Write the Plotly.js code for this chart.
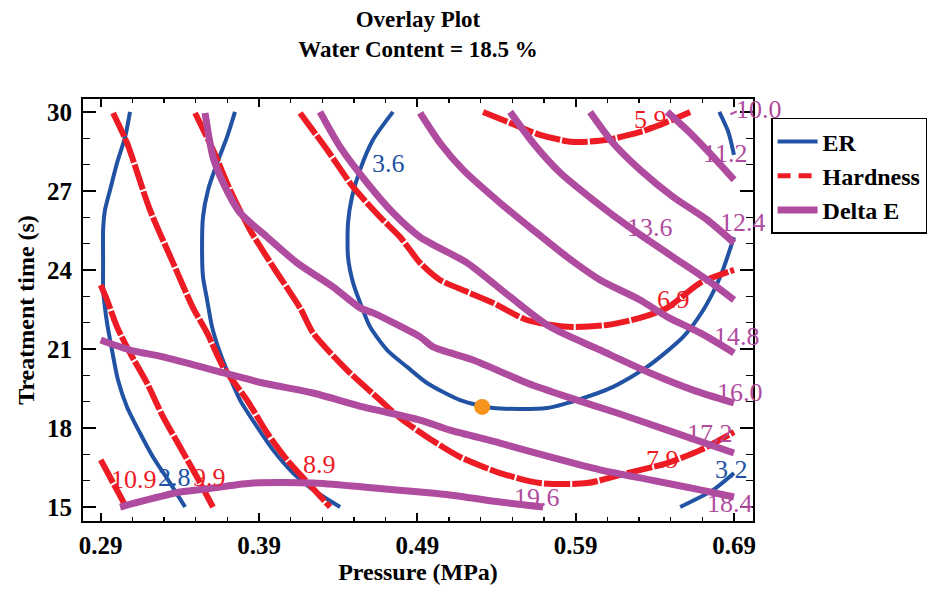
<!DOCTYPE html>
<html>
<head>
<meta charset="utf-8">
<script src="https://cdn.plot.ly/plotly-3.0.1.min.js"></script>
<style>html,body{margin:0;padding:0;background:#fff;}#chart{width:947px;height:592px;}</style>
</head>
<body>
<div id="chart"></div>
<script>
// ---------- ER contours ----------
const er28X = [0.3085,0.3054,0.3003,0.2959,0.2927,0.2915,0.2915,0.2915,0.2921,0.2940,0.2971,0.3009,0.3066,0.3148,0.3230,0.3325,0.3433];
const er28Y = [30,29.05,28.06,27.04,26.28,25.52,24.27,23.24,22.86,21.99,20.96,19.82,18.80,17.81,16.90,16.03,15.0];
const er32aX = [0.3748,0.3698,0.3635,0.3578,0.3546,0.3540,0.3546,0.3572,0.3603,0.3654,0.3704,0.3780,0.3888,0.3989,0.4115,0.4241,0.4412];
const er32aY = [30,29.05,28.06,27.04,26.01,24.76,23.74,22.86,21.84,20.85,20.09,19.06,18.04,17.16,16.29,15.65,15.0];
const er36X = [0.4746,0.4620,0.4538,0.4487,0.4462,0.4462,0.4494,0.4551,0.4601,0.4709,0.4835,0.4961,0.5170,0.5378,0.5720,0.5909,0.6136,0.6351,0.6579,0.6706,0.6813,0.69];
const er36Y = [30.0,28.94,27.80,26.77,25.79,24.49,23.51,22.56,21.84,20.96,20.32,19.71,19.06,18.76,18.76,19.06,19.56,20.32,21.46,22.48,23.74,25.25];
const er36bX = [0.6807,0.6864,0.69];
const er36bY = [30.0,29.24,28.37];
const er32bX = [0.6560,0.6769,0.69];
const er32bY = [15.0,15.65,16.29];
const erLabelText = ['3.6','2.8','3.2'];
const erLabelX = [0.4716,0.3364,0.6882];
const erLabelY = [28.06,16.14,16.44];

// ---------- Hardness contours ----------
const h109X = [0.29,0.3047];
const h109Y = [16.79,15.15];
const h99X = [0.29,0.2940,0.3003,0.3085,0.3192,0.3294,0.3401,0.3508,0.3609];
const h99Y = [23.43,22.86,21.84,20.85,19.71,18.42,17.28,16.14,15.0];
const h89X = [0.2978,0.3066,0.3211,0.3357,0.3483,0.3572,0.3673,0.3824,0.3951,0.4077,0.4203,0.4349];
const h89Y = [29.96,28.82,26.28,24.27,22.56,21.61,20.32,19.06,17.81,16.79,15.95,15.0];
const h79X = [0.3496,0.3609,0.3717,0.3843,0.3989,0.4159,0.4241,0.4456,0.4664,0.4791,0.4961,0.5170,0.5422,0.5675,0.5972,0.6225,0.6478,0.6687,0.69];
const h79Y = [29.96,28.56,27.04,25.52,24.12,22.56,21.61,20.20,19.06,18.38,17.66,16.90,16.29,15.91,15.91,16.29,16.67,17.16,17.85];
const h69X = [0.4159,0.4330,0.4494,0.4664,0.4791,0.4917,0.5043,0.5214,0.5378,0.5593,0.5846,0.6098,0.6307,0.6478,0.6687,0.69];
const h69Y = [29.96,28.56,27.15,26.01,25.25,24.27,23.62,23.17,22.75,22.10,21.84,21.91,22.18,22.56,23.51,24.00];
const h59X = [0.5315,0.5486,0.5675,0.5884,0.6098,0.6307,0.6478,0.6623];
const h59Y = [30.0,29.58,29.13,28.86,28.94,29.24,29.62,30.0];
const hLabelText = ['10.9','9.9','8.9','7.9','6.9','5.9'];
const hLabelX = [0.3111,0.3590,0.4279,0.6446,0.6516,0.6370];
const hLabelY = [16.03,16.14,16.60,16.79,22.86,29.70];

// ---------- Delta E contours ----------
const d100X = [0.6895,0.69];
const d100Y = [30.0,29.93];
const d112X = [0.6478,0.6623,0.6769,0.69];
const d112Y = [30.0,29.20,28.29,27.42];
const d124X = [0.5991,0.6136,0.6307,0.6516,0.6731,0.69];
const d124Y = [30.0,28.82,27.80,26.77,25.90,25.03];
const d136X = [0.5486,0.5631,0.5802,0.6010,0.6263,0.6516,0.6731,0.69];
const d136Y = [30.0,28.82,27.69,26.66,25.52,24.49,23.62,22.86];
const d148X = [0.4917,0.5043,0.5189,0.5422,0.5631,0.5846,0.6054,0.6307,0.6478,0.6687,0.69];
const d148Y = [29.96,28.82,27.80,26.55,25.52,24.49,23.62,22.86,22.22,21.61,20.85];
const d160X = [0.4285,0.4412,0.4582,0.4746,0.4917,0.5214,0.5486,0.5738,0.6054,0.6370,0.6642,0.69];
const d160Y = [30.0,28.67,27.31,26.17,25.25,24.27,22.98,21.84,20.96,20.09,19.44,18.95];
const d172X = [0.3559,0.3609,0.3673,0.3780,0.3951,0.4140,0.4367,0.4538,0.4620,0.4917,0.4999,0.5252,0.5593,0.5846,0.6162,0.6478,0.69];
const d172Y = [29.96,28.29,27.31,26.17,25.25,24.27,23.36,22.56,22.37,21.46,21.08,20.58,19.71,19.18,18.57,17.92,17.05];
const d184X = [0.29,0.3085,0.3294,0.3609,0.3925,0.4241,0.4557,0.4917,0.5107,0.5422,0.5738,0.6054,0.6370,0.6687,0.69];
const d184Y = [21.34,20.96,20.70,20.20,19.71,19.33,18.80,18.30,17.92,17.43,16.90,16.41,16.03,15.65,15.38];
const d196X = [0.3022,0.3192,0.3401,0.3609,0.3862,0.4241,0.4557,0.4917,0.5107,0.5422,0.5694];
const d196Y = [15.0,15.27,15.57,15.72,15.91,15.91,15.76,15.57,15.46,15.19,15.0];
const dLabelText = ['10.0','11.2','12.4','13.6','14.8','16.0','17.2','18.4','19.6'];
const dLabelX = [0.69,0.6844,0.6958,0.6370,0.6920,0.6939,0.6750,0.6876,0.5657];
const dLabelY = [30.08,28.44,25.79,25.60,21.46,19.33,17.81,15.15,15.38];

// ---------- optimum point ----------
const optX = [0.5309];
const optY = [18.80];

// ---------- axis ticks ----------
const xTickVals = [0.29,0.39,0.49,0.59,0.69];
const xTickText = ['0.29','0.39','0.49','0.59','0.69'];
const yTickVals = [15,18,21,24,27,30];

const BLUE = '#2152A3', RED = '#ED1C24', MAG = '#B04C9F', ORANGE = '#F7941D';
const SERIF = 'Liberation Serif, Times New Roman, serif';

function joinSegs(segs){
  const xs=[], ys=[];
  segs.forEach((s,i)=>{ if(i){xs.push(null);ys.push(null);} xs.push(...s[0]); ys.push(...s[1]); });
  return [xs,ys];
}
const er = joinSegs([[er28X,er28Y],[er32aX,er32aY],[er36X,er36Y],[er36bX,er36bY],[er32bX,er32bY]]);
const hd = joinSegs([[h109X,h109Y],[h99X,h99Y],[h89X,h89Y],[h79X,h79Y],[h69X,h69Y],[h59X,h59Y]]);
const de = joinSegs([[d100X,d100Y],[d112X,d112Y],[d124X,d124Y],[d136X,d136Y],[d148X,d148Y],[d160X,d160Y],[d172X,d172Y],[d184X,d184Y],[d196X,d196Y]]);

const traces = [
  {x:er[0], y:er[1], mode:'lines', name:'ER', line:{color:BLUE, width:4, shape:'spline', smoothing:0.7}, connectgaps:false, legendrank:1},
  {x:hd[0], y:hd[1], mode:'lines', name:'Hardness', line:{color:RED, width:6, dash:'26px,2px', shape:'spline', smoothing:0.7}, connectgaps:false, showlegend:false},
  {x:de[0], y:de[1], mode:'lines', name:'Delta E', line:{color:MAG, width:7, shape:'spline', smoothing:0.7}, connectgaps:false, legendrank:3},
  {x:[null], y:[null], mode:'lines', name:'Hardness', line:{color:RED, width:5, dash:'13px,8px'}, legendrank:2},
  {x:optX, y:optY, mode:'markers', marker:{color:ORANGE, size:16}, showlegend:false}
];

const annotations = [];
function addLabels(texts, xs, ys, color){
  texts.forEach((t,i)=>annotations.push({x:xs[i], y:ys[i], xref:'x', yref:'y', text:t, showarrow:false,
    font:{family:SERIF, size:26, color:color}, xanchor: t==='10.0' ? 'left' : 'center', yanchor:'middle'}));
}
addLabels(erLabelText, erLabelX, erLabelY, BLUE);
addLabels(hLabelText, hLabelX, hLabelY, RED);
addLabels(dLabelText, dLabelX, dLabelY, MAG);

const axisCommon = {
  showline:true, linecolor:'#000', linewidth:2, mirror:'ticks', ticks:'inside', tickcolor:'#000', tickwidth:2,
  showgrid:false, zeroline:false, tickfont:{family:SERIF, size:25, weight:'bold', color:'#000'}
};

const layout = {
  width:947, height:592, autosize:false,
  margin:{l:83, r:194, t:99, b:71},
  paper_bgcolor:'#fff', plot_bgcolor:'#fff',
  title:{text:'Overlay Plot<br>Water Content = 18.5 %', x:0.5, xref:'paper', xanchor:'center', y:0.955, yanchor:'top',
    font:{family:SERIF, size:23, weight:'bold', color:'#000'}},
  xaxis:Object.assign({}, axisCommon, {
    range:[0.2788,0.702], tickmode:'array', tickvals:xTickVals, ticktext:xTickText, ticklen:8,
    ticklabelstandoff:1,
    minor:{dtick:0.02, tick0:0.29, ticks:'inside', ticklen:4, tickwidth:1.5, tickcolor:'#000', showgrid:false},
    title:{text:'Pressure (MPa)', standoff:2, font:{family:SERIF, size:24, weight:'bold', color:'#000'}}
  }),
  yaxis:Object.assign({}, axisCommon, {
    range:[14.47,30.49], tickmode:'array', tickvals:yTickVals, ticklen:13,
    ticklabelstandoff:4,
    minor:{dtick:1, tick0:15, ticks:'inside', ticklen:7, tickwidth:1.5, tickcolor:'#000', showgrid:false},
    title:{text:'Treatment time (s)', standoff:6, font:{family:SERIF, size:24, weight:'bold', color:'#000'}}
  }),
  legend:{x:1.027, xanchor:'left', y:0.955, yanchor:'top', bordercolor:'#000', borderwidth:1.5, bgcolor:'#fff',
    font:{family:SERIF, size:24, weight:'bold', color:'#000'}, tracegroupgap:0, itemwidth:40},
  annotations:annotations,
  showlegend:true
};

Plotly.newPlot('chart', traces, layout, {displayModeBar:false, staticPlot:true});
</script>
</body>
</html>
